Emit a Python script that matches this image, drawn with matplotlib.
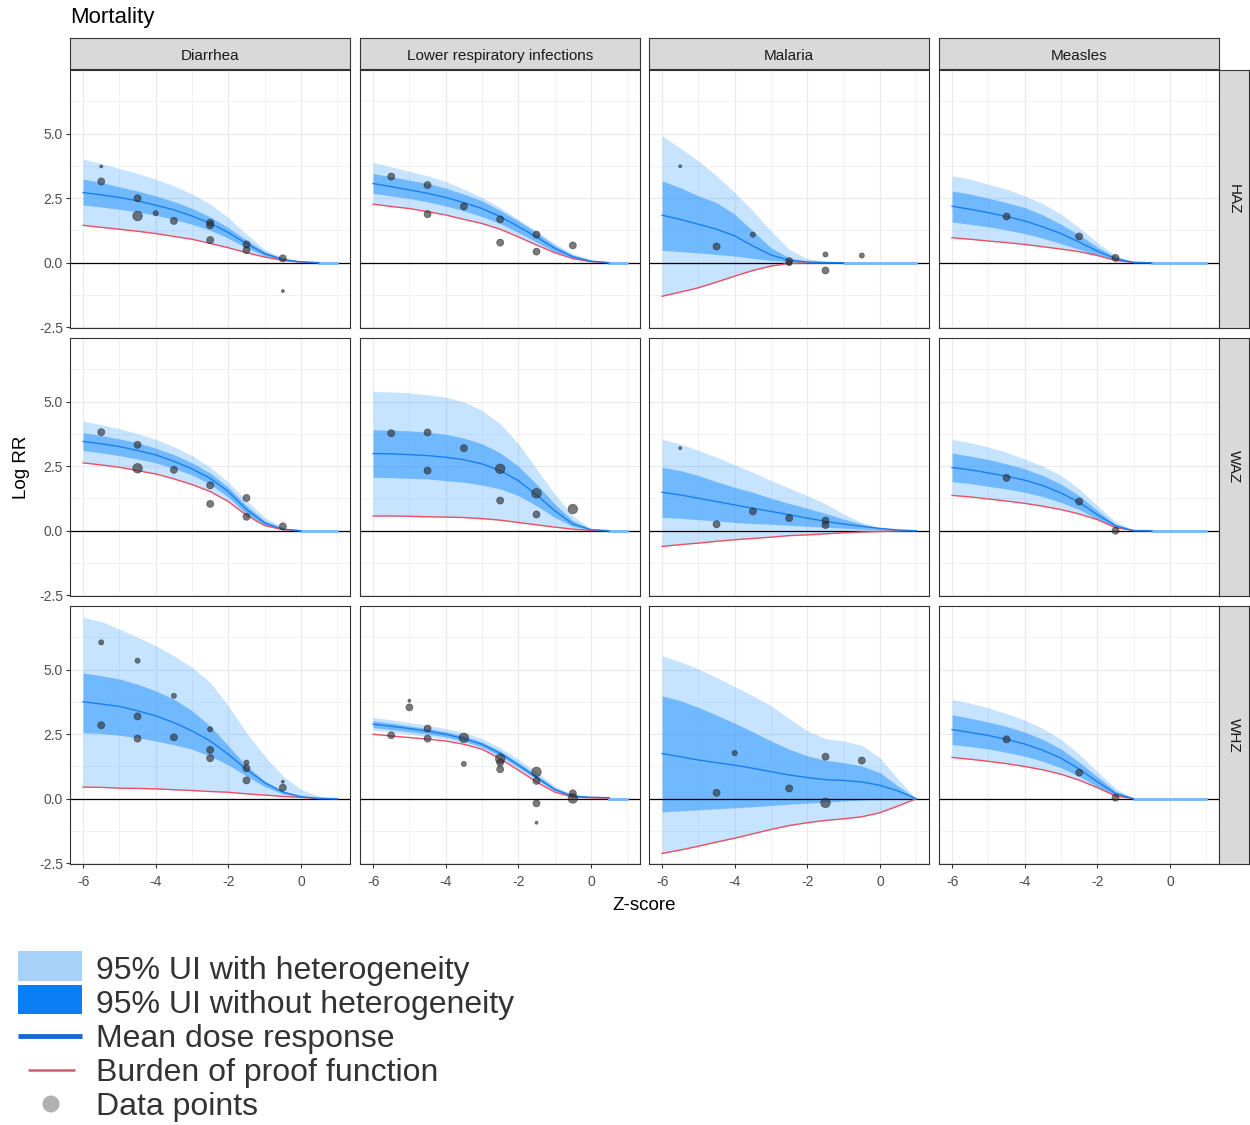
import numpy as np
import matplotlib
matplotlib.use('Agg')
import matplotlib.pyplot as plt
from matplotlib.patches import Rectangle

plt.rcParams['font.family'] = ['Liberation Sans', 'DejaVu Sans']
plt.rcParams['axes.unicode_minus'] = False

W, H = 1250, 1125

# exposure grid (Z-score) the curves were read on
z_grid = [-6, -5.5, -5, -4.5, -4, -3.5, -3, -2.5, -2, -1.5, -1, -0.5, 0, 0.5, 1.0]

causes = ['Diarrhea', 'Lower respiratory infections', 'Malaria', 'Measles']
indicators = ['HAZ', 'WAZ', 'WHZ']

# ---- HAZ ----
haz_dia_hi_out = [4.02, 3.85, 3.65, 3.46, 3.24, 2.98, 2.66, 2.27, 1.75, 1.10, 0.52, 0.19, 0.05, 0]
haz_dia_hi_in = [3.24, 3.11, 2.94, 2.78, 2.59, 2.37, 2.11, 1.77, 1.36, 0.88, 0.43, 0.16, 0.04, 0]
haz_dia_mean = [2.72, 2.63, 2.53, 2.40, 2.23, 2.05, 1.81, 1.53, 1.17, 0.74, 0.35, 0.13, 0.03, 0]
haz_dia_lo_in = [2.24, 2.16, 2.07, 1.97, 1.84, 1.68, 1.49, 1.26, 0.95, 0.58, 0.26, 0.09, 0.01, 0]
haz_dia_bop = [1.45, 1.37, 1.30, 1.22, 1.13, 1.02, 0.91, 0.75, 0.58, 0.39, 0.22, 0.09, 0.03, 0]
haz_dia_px = [-5.5, -5.5, -4.5, -4.5, -4, -3.5, -2.5, -2.5, -2.5, -1.5, -1.5, -0.5, -0.5]
haz_dia_py = [3.73, 3.15, 2.50, 1.81, 1.92, 1.62, 1.55, 1.45, 0.88, 0.71, 0.49, 0.17, -1.10]
haz_dia_pn = [1, 3, 3, 4, 2, 3, 3, 3, 3, 3, 3, 3, 1]

haz_lri_hi_out = [3.89, 3.72, 3.54, 3.37, 3.15, 2.85, 2.53, 2.14, 1.68, 1.23, 0.74, 0.35, 0.12, 0]
haz_lri_hi_in = [3.46, 3.33, 3.20, 3.07, 2.89, 2.66, 2.40, 2.03, 1.62, 1.17, 0.67, 0.30, 0.09, 0]
haz_lri_mean = [3.07, 2.95, 2.82, 2.69, 2.53, 2.33, 2.10, 1.79, 1.40, 1.00, 0.56, 0.23, 0.06, 0]
haz_lri_lo_in = [2.69, 2.59, 2.49, 2.36, 2.20, 2.01, 1.79, 1.52, 1.17, 0.80, 0.43, 0.17, 0.05, 0]
haz_lri_bop = [2.27, 2.18, 2.10, 1.98, 1.85, 1.68, 1.52, 1.30, 1.00, 0.69, 0.39, 0.16, 0.04, 0]
haz_lri_px = [-5.5, -4.5, -4.5, -3.5, -2.5, -2.5, -1.5, -1.5, -0.5]
haz_lri_py = [3.34, 3.01, 1.88, 2.18, 1.68, 0.78, 1.09, 0.43, 0.67]
haz_lri_pn = [3, 3, 3, 3, 3, 3, 3, 3, 3]

haz_mal_hi_out = [4.92, 4.44, 3.95, 3.37, 2.72, 2.01, 1.23, 0.52, 0.16, 0.05, 0]
haz_mal_hi_in = [3.17, 2.91, 2.59, 2.33, 1.88, 1.23, 0.58, 0.19, 0.06, 0.02, 0]
haz_mal_mean = [1.84, 1.68, 1.49, 1.30, 1.04, 0.65, 0.30, 0.09, 0.03, 0.01, 0]
haz_mal_lo_in = [0.48, 0.43, 0.38, 0.32, 0.26, 0.17, 0.09, 0.04, 0.01, 0, 0]
haz_mal_bop = [-1.30, -1.14, -0.97, -0.75, -0.52, -0.30, -0.13, -0.03, -0.01, -0.01, 0]
haz_mal_px = [-5.5, -4.5, -3.5, -2.5, -2.5, -1.5, -1.5, -0.5]
haz_mal_py = [3.74, 0.63, 1.09, 0.06, -0.02, 0.32, -0.30, 0.28]
haz_mal_pn = [1, 3, 2, 3, 2, 2, 3, 2]

haz_mea_hi_out = [3.37, 3.24, 3.04, 2.85, 2.59, 2.29, 1.88, 1.36, 0.78, 0.28, 0.04, 0]
haz_mea_hi_in = [2.78, 2.66, 2.50, 2.33, 2.14, 1.85, 1.49, 1.08, 0.61, 0.22, 0.03, 0]
haz_mea_mean = [2.19, 2.07, 1.94, 1.79, 1.62, 1.39, 1.13, 0.80, 0.45, 0.16, 0.01, 0]
haz_mea_lo_in = [1.58, 1.49, 1.39, 1.27, 1.13, 0.95, 0.74, 0.52, 0.28, 0.09, 0, 0]
haz_mea_bop = [0.97, 0.91, 0.84, 0.78, 0.71, 0.62, 0.53, 0.43, 0.28, 0.09, 0.01, 0]
haz_mea_px = [-4.5, -2.5, -1.5]
haz_mea_py = [1.79, 1.02, 0.19]
haz_mea_pn = [3, 3, 3]

# ---- WAZ ----
waz_dia_hi_out = [4.25, 4.11, 3.95, 3.76, 3.54, 3.26, 2.91, 2.46, 1.88, 1.17, 0.52, 0.13, 0]
waz_dia_hi_in = [3.80, 3.69, 3.56, 3.41, 3.20, 2.95, 2.63, 2.24, 1.68, 0.97, 0.39, 0.09, 0]
waz_dia_mean = [3.46, 3.37, 3.26, 3.11, 2.94, 2.69, 2.40, 2.03, 1.52, 0.82, 0.30, 0.06, 0]
waz_dia_lo_in = [3.11, 3.02, 2.91, 2.78, 2.63, 2.42, 2.16, 1.81, 1.30, 0.65, 0.22, 0.04, 0]
waz_dia_bop = [2.63, 2.55, 2.46, 2.33, 2.20, 2.01, 1.79, 1.52, 1.13, 0.60, 0.20, 0.04, 0]
waz_dia_px = [-5.5, -4.5, -4.5, -3.5, -2.5, -2.5, -1.5, -1.5, -0.5]
waz_dia_py = [3.82, 3.33, 2.42, 2.36, 1.76, 1.04, 1.27, 0.54, 0.17]
waz_dia_pn = [3, 3, 4, 3, 3, 3, 3, 3, 3]

waz_lri_hi_out = [5.40, 5.38, 5.34, 5.27, 5.18, 4.99, 4.66, 4.15, 3.37, 2.40, 1.42, 0.58, 0.09, 0]
waz_lri_hi_in = [3.91, 3.90, 3.87, 3.82, 3.74, 3.59, 3.37, 3.02, 2.50, 1.81, 1.04, 0.39, 0.06, 0]
waz_lri_mean = [2.99, 2.98, 2.95, 2.91, 2.85, 2.75, 2.59, 2.33, 1.94, 1.39, 0.78, 0.26, 0.04, 0]
waz_lri_lo_in = [2.07, 2.06, 2.03, 2.01, 1.94, 1.88, 1.77, 1.62, 1.36, 0.97, 0.52, 0.17, 0.03, 0]
waz_lri_bop = [0.57, 0.57, 0.56, 0.54, 0.53, 0.51, 0.47, 0.41, 0.32, 0.23, 0.14, 0.06, 0.01, 0]
waz_lri_px = [-5.5, -4.5, -4.5, -3.5, -2.5, -2.5, -1.5, -1.5, -0.5]
waz_lri_py = [3.78, 3.81, 2.33, 3.20, 2.40, 1.17, 1.45, 0.63, 0.84]
waz_lri_pn = [3, 3, 3, 3, 4, 3, 4, 3, 4]

waz_mal_hi_out = [3.54, 3.37, 3.11, 2.85, 2.55, 2.27, 1.94, 1.65, 1.36, 1.04, 0.65, 0.32, 0.13, 0.04, 0]
waz_mal_hi_in = [2.46, 2.33, 2.14, 1.90, 1.68, 1.49, 1.26, 1.06, 0.87, 0.67, 0.45, 0.26, 0.10, 0.03, 0]
waz_mal_mean = [1.49, 1.39, 1.26, 1.13, 1.00, 0.87, 0.75, 0.62, 0.49, 0.36, 0.26, 0.17, 0.09, 0.03, 0]
waz_mal_lo_in = [0.52, 0.48, 0.43, 0.38, 0.32, 0.28, 0.25, 0.21, 0.17, 0.13, 0.10, 0.06, 0.04, 0.01, 0]
waz_mal_bop = [-0.61, -0.54, -0.48, -0.41, -0.35, -0.30, -0.25, -0.19, -0.16, -0.12, -0.08, -0.05, -0.03, -0.01, 0]
waz_mal_px = [-5.5, -4.5, -3.5, -2.5, -1.5, -1.5]
waz_mal_py = [3.20, 0.25, 0.75, 0.49, 0.39, 0.22]
waz_mal_pn = [1, 3, 3, 3, 3, 3]

waz_mea_hi_out = [3.54, 3.41, 3.24, 3.04, 2.78, 2.50, 2.14, 1.62, 0.97, 0.35, 0.04, 0]
waz_mea_hi_in = [3.01, 2.89, 2.76, 2.59, 2.40, 2.14, 1.81, 1.36, 0.78, 0.26, 0.01, 0]
waz_mea_mean = [2.45, 2.36, 2.24, 2.11, 1.96, 1.75, 1.46, 1.10, 0.62, 0.19, 0, 0]
waz_mea_lo_in = [1.90, 1.83, 1.72, 1.62, 1.49, 1.32, 1.10, 0.82, 0.45, 0.13, 0, 0]
waz_mea_bop = [1.37, 1.31, 1.23, 1.15, 1.06, 0.95, 0.82, 0.65, 0.43, 0.12, 0.01, 0]
waz_mea_px = [-4.5, -2.5, -1.5]
waz_mea_py = [2.05, 1.13, 0.0]
waz_mea_pn = [3, 3, 3]

# ---- WHZ ----
whz_dia_hi_out = [7.03, 6.87, 6.58, 6.26, 5.93, 5.54, 5.09, 4.51, 3.60, 2.56, 1.66, 0.88, 0.36, 0.10, 0]
whz_dia_hi_in = [4.87, 4.77, 4.64, 4.44, 4.18, 3.86, 3.41, 2.82, 2.05, 1.27, 0.69, 0.30, 0.10, 0.03, 0]
whz_dia_mean = [3.76, 3.67, 3.58, 3.41, 3.21, 2.95, 2.63, 2.24, 1.72, 1.14, 0.62, 0.26, 0.08, 0.01, 0]
whz_dia_lo_in = [2.56, 2.53, 2.46, 2.37, 2.24, 2.09, 1.92, 1.66, 1.31, 0.88, 0.47, 0.19, 0.05, 0.01, 0]
whz_dia_bop = [0.45, 0.44, 0.41, 0.40, 0.38, 0.35, 0.32, 0.28, 0.25, 0.19, 0.14, 0.09, 0.05, 0.01, 0]
whz_dia_px = [-5.5, -5.5, -4.5, -4.5, -4.5, -3.5, -3.5, -2.5, -2.5, -2.5, -1.5, -1.5, -1.5, -0.5, -0.5]
whz_dia_py = [6.06, 2.85, 5.35, 3.19, 2.33, 3.99, 2.38, 2.69, 1.89, 1.57, 1.40, 1.18, 0.71, 0.66, 0.43]
whz_dia_pn = [2, 3, 2, 3, 3, 2, 3, 2, 3, 3, 2, 3, 3, 1, 3]

whz_lri_hi_out = [3.15, 3.06, 2.95, 2.85, 2.72, 2.56, 2.33, 1.98, 1.53, 1.04, 0.49, 0.17, 0.08, 0.05]
whz_lri_hi_in = [3.02, 2.93, 2.82, 2.72, 2.60, 2.43, 2.20, 1.85, 1.40, 0.92, 0.43, 0.13, 0.07, 0.05]
whz_lri_mean = [2.89, 2.81, 2.72, 2.62, 2.50, 2.33, 2.11, 1.76, 1.31, 0.83, 0.36, 0.10, 0.06, 0.04]
whz_lri_lo_in = [2.76, 2.68, 2.60, 2.51, 2.40, 2.23, 2.01, 1.66, 1.22, 0.75, 0.31, 0.08, 0.05, 0.03]
whz_lri_lo_out = [2.66, 2.58, 2.50, 2.41, 2.31, 2.15, 1.92, 1.58, 1.14, 0.69, 0.27, 0.06, 0.04, 0.03]
whz_lri_bop = [2.50, 2.43, 2.37, 2.31, 2.24, 2.11, 1.92, 1.55, 1.11, 0.65, 0.26, 0.06, 0.03, 0.02]
whz_lri_px = [-5, -5, -5.5, -4.5, -4.5, -3.5, -3.5, -2.5, -2.5, -2.5, -1.5, -1.5, -1.5, -1.5, -0.5, -0.5]
whz_lri_py = [3.80, 3.54, 2.46, 2.72, 2.33, 2.36, 1.35, 1.55, 1.40, 1.14, 1.04, 0.69, -0.18, -0.93, 0.21, 0.01]
whz_lri_pn = [1, 3, 3, 3, 3, 4, 2, 4, 3, 3, 4, 3, 3, 1, 3, 4]

whz_mal_hi_out = [5.54, 5.31, 5.03, 4.70, 4.35, 3.99, 3.60, 3.11, 2.63, 2.33, 2.24, 2.07, 1.59, 0.75, 0]
whz_mal_hi_in = [3.99, 3.80, 3.54, 3.24, 2.93, 2.59, 2.24, 1.92, 1.66, 1.49, 1.40, 1.27, 1.01, 0.49, 0]
whz_mal_mean = [1.75, 1.63, 1.50, 1.40, 1.30, 1.18, 1.05, 0.92, 0.82, 0.74, 0.71, 0.65, 0.52, 0.30, 0]
whz_mal_lo_in = [-0.51, -0.47, -0.43, -0.39, -0.35, -0.31, -0.26, -0.21, -0.17, -0.13, -0.09, -0.05, -0.03, -0.01, 0]
whz_mal_bop = [-2.12, -1.99, -1.84, -1.68, -1.53, -1.36, -1.19, -1.04, -0.93, -0.84, -0.78, -0.70, -0.54, -0.28, 0]
whz_mal_px = [-4.5, -4, -2.5, -1.5, -1.5, -0.5]
whz_mal_py = [0.23, 1.77, 0.40, 1.63, -0.16, 1.48]
whz_mal_pn = [3, 2, 3, 3, 4, 3]

whz_mea_hi_out = [3.85, 3.70, 3.52, 3.30, 3.05, 2.72, 2.30, 1.72, 1.05, 0.40, 0.03]
whz_mea_hi_in = [3.25, 3.12, 2.97, 2.80, 2.58, 2.30, 1.93, 1.42, 0.85, 0.30, 0.01]
whz_mea_mean = [2.68, 2.57, 2.45, 2.30, 2.12, 1.88, 1.57, 1.15, 0.66, 0.20, 0]
whz_mea_lo_in = [2.10, 2.02, 1.93, 1.80, 1.65, 1.45, 1.20, 0.87, 0.47, 0.12, 0]
whz_mea_bop = [1.60, 1.53, 1.45, 1.36, 1.25, 1.12, 0.95, 0.72, 0.43, 0.11, 0]
whz_mea_px = [-4.5, -2.5, -1.5]
whz_mea_py = [2.30, 1.01, 0.04]
whz_mea_pn = [3, 3, 3]

# rows = indicator, columns = cause
panels = [
    [(haz_dia_hi_out, haz_dia_hi_in, haz_dia_mean, haz_dia_lo_in, haz_dia_bop, haz_dia_bop, haz_dia_px, haz_dia_py, haz_dia_pn),
     (haz_lri_hi_out, haz_lri_hi_in, haz_lri_mean, haz_lri_lo_in, haz_lri_bop, haz_lri_bop, haz_lri_px, haz_lri_py, haz_lri_pn),
     (haz_mal_hi_out, haz_mal_hi_in, haz_mal_mean, haz_mal_lo_in, haz_mal_bop, haz_mal_bop, haz_mal_px, haz_mal_py, haz_mal_pn),
     (haz_mea_hi_out, haz_mea_hi_in, haz_mea_mean, haz_mea_lo_in, haz_mea_bop, haz_mea_bop, haz_mea_px, haz_mea_py, haz_mea_pn)],
    [(waz_dia_hi_out, waz_dia_hi_in, waz_dia_mean, waz_dia_lo_in, waz_dia_bop, waz_dia_bop, waz_dia_px, waz_dia_py, waz_dia_pn),
     (waz_lri_hi_out, waz_lri_hi_in, waz_lri_mean, waz_lri_lo_in, waz_lri_bop, waz_lri_bop, waz_lri_px, waz_lri_py, waz_lri_pn),
     (waz_mal_hi_out, waz_mal_hi_in, waz_mal_mean, waz_mal_lo_in, waz_mal_bop, waz_mal_bop, waz_mal_px, waz_mal_py, waz_mal_pn),
     (waz_mea_hi_out, waz_mea_hi_in, waz_mea_mean, waz_mea_lo_in, waz_mea_bop, waz_mea_bop, waz_mea_px, waz_mea_py, waz_mea_pn)],
    [(whz_dia_hi_out, whz_dia_hi_in, whz_dia_mean, whz_dia_lo_in, whz_dia_bop, whz_dia_bop, whz_dia_px, whz_dia_py, whz_dia_pn),
     (whz_lri_hi_out, whz_lri_hi_in, whz_lri_mean, whz_lri_lo_in, whz_lri_lo_out, whz_lri_bop, whz_lri_px, whz_lri_py, whz_lri_pn),
     (whz_mal_hi_out, whz_mal_hi_in, whz_mal_mean, whz_mal_lo_in, whz_mal_bop, whz_mal_bop, whz_mal_px, whz_mal_py, whz_mal_pn),
     (whz_mea_hi_out, whz_mea_hi_in, whz_mea_mean, whz_mea_lo_in, whz_mea_bop, whz_mea_bop, whz_mea_px, whz_mea_py, whz_mea_pn)],
]

BAND = '#1e90ff'
MEAN_COL = '#1a7fec'
BOP_COL = '#f04d62'
size_map = {1: 5, 2: 14, 3: 26, 4: 48}


def fig_box(left, top, width, height):
    return [left / W, 1 - (top + height) / H, width / W, height / H]


col_left = [70, 360, 649, 939]
row_top = [70, 338, 606]
pw, ph = 280, 258

fig = plt.figure(figsize=(W / 100, H / 100), dpi=100)

for r in range(3):
    for c in range(4):
        hi_out, hi_in, mean, lo_in, lo_out, bop, px, py, pn = panels[r][c]
        ax = fig.add_axes(fig_box(col_left[c], row_top[r], pw, ph))
        x = np.array(z_grid[:len(mean)])
        ax.fill_between(x, lo_out, hi_out, color=BAND, alpha=0.25, lw=0)
        ax.fill_between(x, lo_in, hi_in, color=BAND, alpha=0.5, lw=0)
        ax.axhline(0, color='black', lw=0.9, zorder=2)
        if x[-1] < 1:
            ax.plot([x[-1], 1.0], [0, 0], color='#74b9fb', lw=2.0, zorder=3)
        ax.plot(np.array(z_grid[:len(bop)]), bop, color=BOP_COL, lw=1.0, zorder=3)
        ax.plot(x, mean, color=MEAN_COL, lw=1.0, zorder=4)
        ax.scatter(px, py, s=[size_map[n] for n in pn], facecolor=(0.2, 0.2, 0.2, 0.65),
                   edgecolor=(0, 0, 0, 0.45), lw=0.5, zorder=5)

        ax.set_xlim(-6.36, 1.35)
        ax.set_ylim(-2.53, 7.47)
        ax.set_xticks([-6, -4, -2, 0])
        ax.set_xticks([-5, -3, -1, 1], minor=True)
        ax.set_yticks([-2.5, 0, 2.5, 5.0])
        ax.set_yticks([-1.25, 1.25, 3.75, 6.25], minor=True)
        ax.set_yticklabels(['-2.5', '0.0', '2.5', '5.0'])
        ax.grid(which='major', color='#ebebeb', lw=0.9)
        ax.grid(which='minor', color='#ebebeb', lw=0.45)
        ax.set_axisbelow(True)
        for s in ax.spines.values():
            s.set_color('#333333')
            s.set_linewidth(0.8)
        ax.tick_params(which='minor', length=0)
        ax.tick_params(which='major', length=3, color='#333333', labelsize=10,
                       labelcolor='#4d4d4d', pad=2)
        ax.tick_params(axis='x', pad=5)
        if c != 0:
            ax.tick_params(axis='y', length=0, labelleft=False)
        if r != 2:
            ax.tick_params(axis='x', length=0, labelbottom=False)

# strips on top (causes)
for c in range(4):
    sx = fig.add_axes(fig_box(col_left[c], 38, pw, 31))
    sx.set_facecolor('#d9d9d9')
    sx.set_xticks([])
    sx.set_yticks([])
    for s in sx.spines.values():
        s.set_color('#333333')
        s.set_linewidth(0.8)
    sx.text(0.5, 0.42, causes[c], ha='center', va='center', fontsize=11,
            color='#1a1a1a', transform=sx.transAxes)

# strips on the right (indicators)
for r in range(3):
    sy = fig.add_axes(fig_box(1219, row_top[r], 30, ph))
    sy.set_facecolor('#d9d9d9')
    sy.set_xticks([])
    sy.set_yticks([])
    for s in sy.spines.values():
        s.set_color('#333333')
        s.set_linewidth(0.8)
    sy.text(0.5, 0.5, indicators[r], ha='center', va='center', fontsize=11,
            rotation=-90, color='#1a1a1a', transform=sy.transAxes)

fig.text(70 / W, 1 - 18 / H, 'Mortality', ha='left', va='center', fontsize=16, color='black')
fig.text(21 / W, 1 - 467 / H, 'Log RR', ha='center', va='center', rotation=90, fontsize=13.5)
fig.text(644 / W, 1 - 905 / H, 'Z-score', ha='center', va='center', fontsize=13.5)

# legend block, drawn in pixel coordinates
lg = fig.add_axes([0, 0, 1, 1], zorder=10)
lg.set_xlim(0, W)
lg.set_ylim(H, 0)
lg.axis('off')
lg.add_patch(Rectangle((18, 951), 64, 30, facecolor='#a8d1f8', edgecolor='none'))
lg.add_patch(Rectangle((18, 985), 64, 29, facecolor='#0a7ff4', edgecolor='none'))
lg.plot([18, 82], [1036, 1036], color='#1868d0', lw=3.5, solid_capstyle='butt')
lg.plot([28, 75], [1070, 1070], color='#c8606e', lw=1.8, solid_capstyle='butt')
lg.scatter([51], [1104], s=150, color='#b0b0b0', edgecolor='none')
legend_labels = ['95% UI with heterogeneity', '95% UI without heterogeneity',
                 'Mean dose response', 'Burden of proof function', 'Data points']
for i, lab in enumerate(legend_labels):
    lg.text(96, 971 + 34 * i, lab, ha='left', va='center', fontsize=23, color='#333333')

fig.savefig('out.png', dpi=100)
